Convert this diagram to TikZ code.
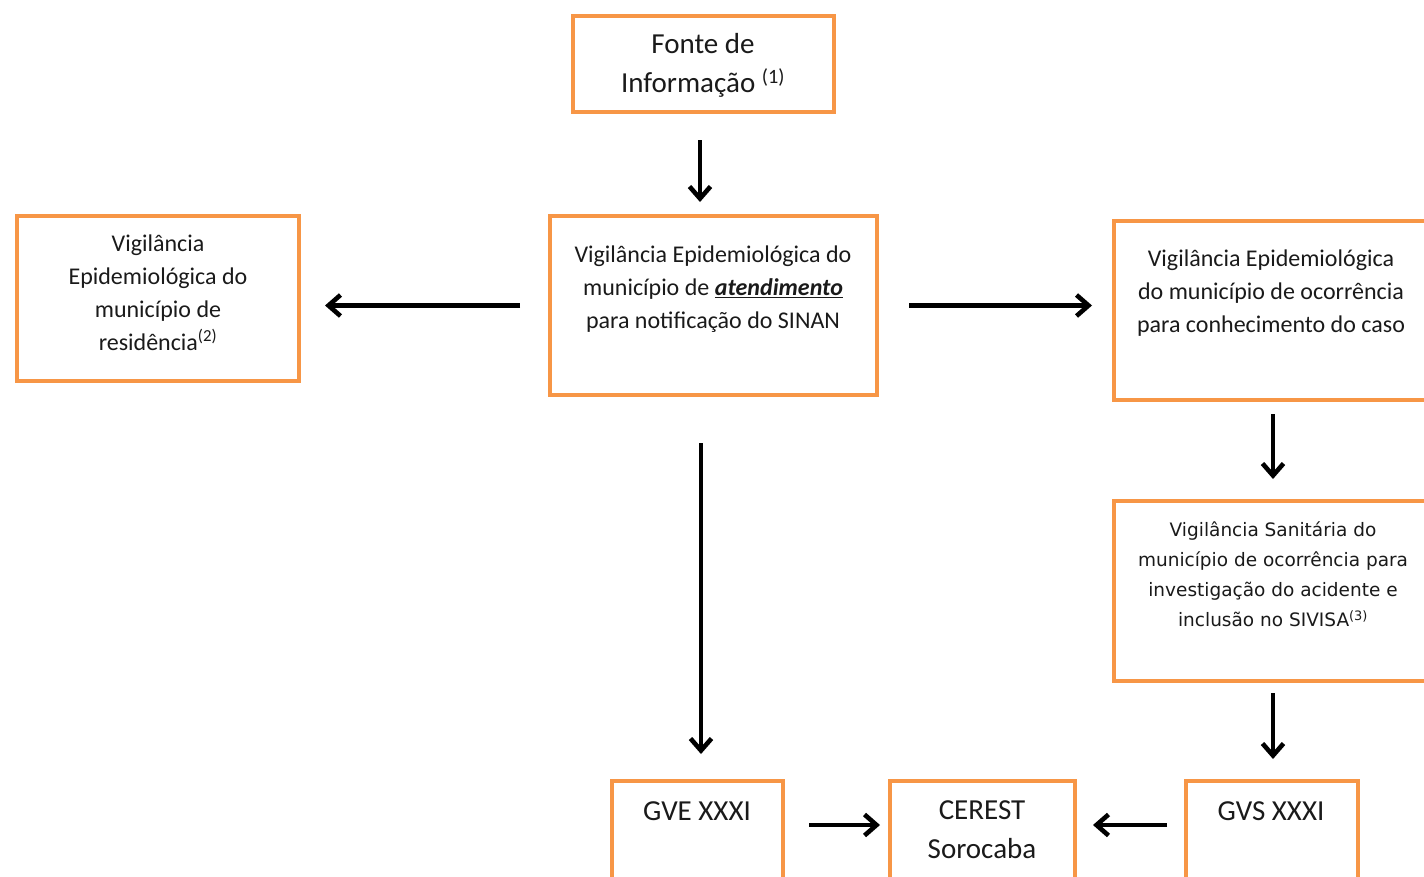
\documentclass[tikz,border=0pt]{standalone}
\usepackage{fontspec}
\setmainfont{Carlito}
\newfontfamily\vsfont{DejaVu Sans}
\usetikzlibrary{arrows.meta,calc}
\definecolor{boxorange}{HTML}{F79646}
\definecolor{txt}{HTML}{1A1A1A}
\begin{document}
\begin{tikzpicture}[x=1pt,y=-1pt,
  box/.style={draw=boxorange,line width=4pt,rectangle,inner sep=0pt,outer sep=0pt,fill=white},
  txtA/.style={align=center,text=txt,inner sep=0pt,font=\fontsize{29}{39}\selectfont},
  txtB/.style={align=center,text=txt,inner sep=0pt,font=\fontsize{24}{33}\selectfont},
  txtC/.style={align=center,text=txt,inner sep=0pt,font=\vsfont\fontsize{18.5}{30}\selectfont},
  arr/.style={line width=4.6pt,-{Straight Barb[length=12pt,width=21pt,line width=4.6pt]}}]
\useasboundingbox (0,0) rectangle (1424,876);
\clip (0,0) rectangle (1424,876);
\fill[white] (0,0) rectangle (1424,876);
% boxes
\node[box,minimum width=261pt,minimum height=96pt] (fonte) at (703.5,64) {};
\node[box,minimum width=282pt,minimum height=165pt] (left) at (158,298.5) {};
\node[box,minimum width=327pt,minimum height=179pt] (center) at (713.5,305.5) {};
\node[box,minimum width=330pt,minimum height=179pt] (r1) at (1279,310.5) {};
\node[box,minimum width=330pt,minimum height=180pt] (r2) at (1279,591) {};
\node[box,minimum width=171pt,minimum height=119pt] (gve) at (697.5,840.5) {};
\node[box,minimum width=185pt,minimum height=119pt] (cerest) at (982.5,840.5) {};
\node[box,minimum width=172pt,minimum height=119pt] (gvs) at (1272,840.5) {};
% texts
\node[txtA] (fonteT) at (703,65) {Fonte de\\Informação \textsuperscript{(1)}};
\node[txtB] (leftT) at (158,293) {Vigilância\\Epidemiológica do\\município de\\residência\textsuperscript{(2)}};
\node[txtB] (centerT) at (713,289) {Vigilância Epidemiológica do\\município de \underline{\textbf{\textit{atendimento}}}\\para notificação do SINAN};
\node[txtB] (r1T) at (1271,293) {Vigilância Epidemiológica\\do município de ocorrência\\para conhecimento do caso};
\node[txtC] (r2T) at (1273,574.5) {Vigilância Sanitária do\\município de ocorrência para\\investigação do acidente e\\inclusão no SIVISA\textsuperscript{(3)}};
\node[txtA] (gveT) at (697,811) {GVE XXXI};
\node[txtA] (cerestT) at (982,829.5) {CEREST\\Sorocaba};
\node[txtA] (gvsT) at (1271,811) {GVS XXXI};
% arrows
\draw[arr,shorten <=28pt,shorten >=14pt] ([xshift=-3.5pt]fonte.south) -- ([xshift=-3.5pt]fonte.south |- center.north);
\draw[arr,shorten <=30pt,shorten >=26pt] (center.west) -- (center.west -| left.east);
\draw[arr,shorten <=32pt,shorten >=22pt] (center.east) -- (center.east -| r1.west);
\draw[arr,shorten <=48pt,shorten >=27pt] ([xshift=-12.5pt]center.south) -- ([xshift=-12.5pt]center.south |- gve.north);
\draw[arr,shorten <=14pt,shorten >=22pt] ([xshift=-6pt]r1.south) -- ([xshift=-6pt]r1.south |- r2.north);
\draw[arr,shorten <=12pt,shorten >=22pt] ([xshift=-6pt]r2.south) -- ([xshift=-6pt]r2.south |- gvs.north);
\draw[arr,shorten <=26pt,shorten >=10pt] ([yshift=15.5pt]gve.east) -- ([yshift=15.5pt]gve.east -| cerest.west);
\draw[arr,shorten <=19pt,shorten >=18pt] ([yshift=15.5pt]gvs.west) -- ([yshift=15.5pt]gvs.west -| cerest.east);
\end{tikzpicture}
\end{document}
